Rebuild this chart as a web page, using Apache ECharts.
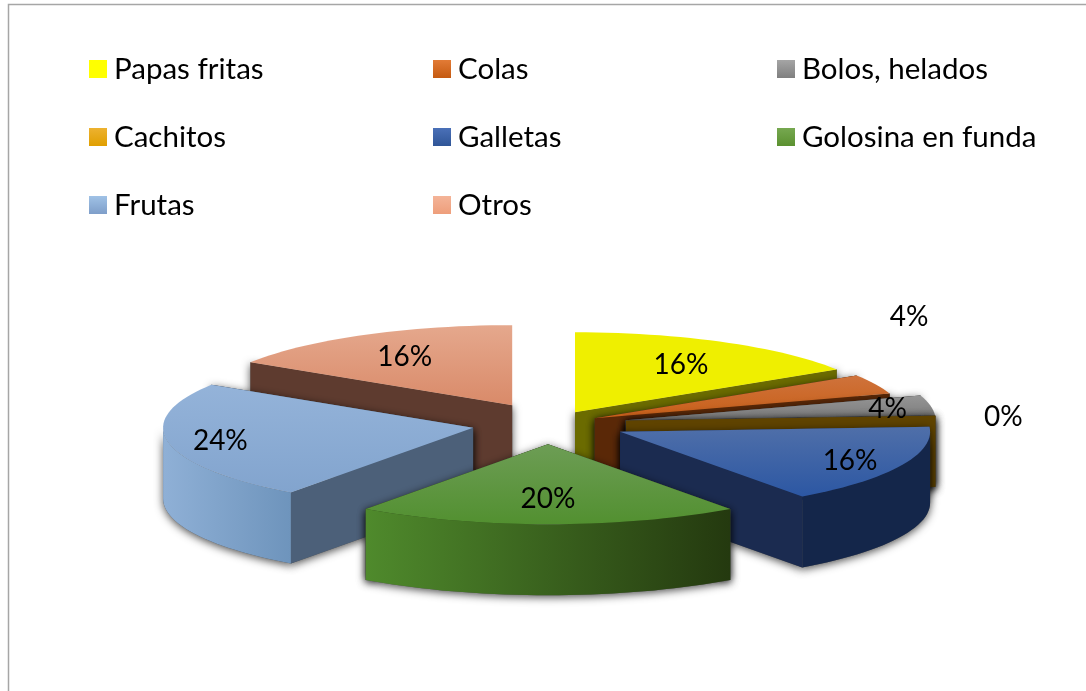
<!DOCTYPE html>
<html>
<head>
<meta charset="utf-8">
<title>Pastel 3D</title>
<style>html,body{margin:0;background:#fff}#main{width:1086px;height:691px}</style>
<script src="https://cdn.jsdelivr.net/npm/echarts@6/dist/echarts.min.js"></script>
</head>
<body>
<div id="main"></div>
<script>
// data
var categories = ['Papas fritas', 'Colas', 'Bolos, helados', 'Cachitos', 'Galletas', 'Golosina en funda', 'Frutas', 'Otros'];
var percents = [16, 4, 4, 0, 16, 20, 24, 16];

// look of the tilted pie
var FONT = 'Lato';
var cx = 548, cy = 425, rx = 310, ry = 80, depth = 71;
var explode = [0.181, 0.167, 0.255, 0.252, 0.257, 0.24, 0.246, 0.24];
var sliceLift = [0, -1, -1, -3, -2, 0, -1, -3];
var labelR = [0.71, 1.12, 0.86, 1.22, 0.82, 0.68, 0.83, 0.72];
var labelLift = [2, -63, 2, 2, 1, 0, 1, 2];
// back to front
var drawOrder = [7, 0, 1, 2, 3, 6, 4, 5];
var legendCols = [[0, 3, 6], [1, 4, 7], [2, 5]];
var legendX = [89, 433, 777];
var legendFill = [['#ffff00', '#ffff00'], ['#e27b36', '#c55a11'], ['#a5a5a5', '#7f7f7f'], ['#edb230', '#e09f00'],
  ['#4a70b8', '#2f5597'], ['#76a850', '#5b9130'], ['#a0c2e6', '#7e9ec9'], ['#f4b498', '#ee9e7b']];
var topFill = [['#efef00', '#efef00'], ['#cf733c', '#c85f18'], ['#959595', '#7a7a7a'], ['#e6a100', '#e6a100'],
  ['#4f6fa9', '#2c57a3'], ['#6d9d55', '#529030'], ['#94b3d9', '#82a4ce'], ['#e5a88d', '#d98a69']];
var cutFill = ['#6b6b00', '#5a2807', '#404040', '#5f4300', '#1b2b50', '#24390f', '#4c6079', '#5e3b2f'];
var wallFill = [null, null, null, null, ['#14264a', '#14264a'], ['#4f8a2c', '#24390f'], ['#8fb0d6', '#6e94bc'], null];
var SHADOW = { fill: '#555', shadowColor: 'rgba(0,0,0,0.7)', shadowBlur: 8, shadowOffsetY: 2 };

var total = percents.reduce(function (a, b) { return a + b; }, 0);
var angleOf = function (v) { return echarts.number.linearMap(v, [0, total], [0, 360]); };

function grad(pair, horizontal) {
  return new echarts.graphic.LinearGradient(0, 0, horizontal ? 1 : 0, horizontal ? 0 : 1, [
    { offset: 0, color: pair[0] }, { offset: 1, color: pair[1] }
  ]);
}
function sliceRange(i) {
  var before = percents.slice(0, i).reduce(function (a, b) { return a + b; }, 0);
  return [angleOf(before), angleOf(before + percents[i])];
}
function apex(i) {
  var r = sliceRange(i), mid = (r[0] + r[1]) / 2 * Math.PI / 180;
  return [cx + explode[i] * rx * Math.sin(mid), cy - explode[i] * ry * Math.cos(mid) + sliceLift[i]];
}
function rim(c, deg, drop) {
  var a = deg * Math.PI / 180;
  return [c[0] + rx * Math.sin(a), c[1] - ry * Math.cos(a) + (drop || 0)];
}
function arcPoints(c, from, to, drop) {
  var pts = [], n = Math.max(2, Math.ceil(Math.abs(to - from) / 2));
  for (var k = 0; k <= n; k++) pts.push(rim(c, from + (to - from) * k / n, drop));
  return pts;
}
function poly(points, style) {
  return { type: 'polygon', shape: { points: points }, style: style };
}
function cutPoints(c, deg) {
  var p = rim(c, deg);
  return [c, p, [p[0], p[1] + depth], [c[0], c[1] + depth]];
}
function renderSlice(i) {
  return function () {
    var r = sliceRange(i), c = apex(i), shadows = [], faces = [];
    // the start face looks at us on the left half, the end face on the right half
    var startFirst = Math.sin(r[1] * Math.PI / 180) > 0;
    [startFirst ? r[0] : r[1], startFirst ? r[1] : r[0]].forEach(function (deg) {
      shadows.push(poly(cutPoints(c, deg), SHADOW));
      faces.push(poly(cutPoints(c, deg), { fill: cutFill[i] }));
    });
    var from = Math.max(r[0], 90), to = Math.min(r[1], 270);
    if (wallFill[i] && to > from) {
      var wall = arcPoints(c, from, to, 0).concat(arcPoints(c, to, from, depth));
      shadows.push(poly(wall, SHADOW));
      faces.push(poly(wall, { fill: grad(wallFill[i], true) }));
    }
    if (r[1] > r[0]) {
      faces.push(poly([c].concat(arcPoints(c, r[0], r[1], 0)), { fill: grad(topFill[i], false) }));
    }
    return { type: 'group', children: shadows.concat(faces) };
  };
}
function renderLabel(params, api) {
  var i = params.dataIndex, r = sliceRange(i), c = apex(i), mid = (r[0] + r[1]) / 2 * Math.PI / 180;
  return {
    type: 'text',
    style: {
      text: api.value(0) + '%',
      x: c[0] + labelR[i] * rx * Math.sin(mid),
      y: c[1] - labelR[i] * ry * Math.cos(mid) + labelLift[i],
      textAlign: 'center',
      textVerticalAlign: 'middle',
      font: '28px ' + FONT,
      fill: '#000'
    }
  };
}

var series = drawOrder.map(function (i, order) {
  return {
    type: 'custom',
    name: categories[i],
    coordinateSystem: 'none',
    z: 2 + order,
    silent: true,
    itemStyle: { color: legendFill[i][1] },
    renderItem: renderSlice(i),
    data: [percents[i]]
  };
});
series.push({
  type: 'custom',
  name: 'etiquetas',
  coordinateSystem: 'none',
  z: 20,
  silent: true,
  renderItem: renderLabel,
  data: percents
});

var legends = legendCols.map(function (col, n) {
  return {
    orient: 'vertical',
    left: legendX[n],
    top: 54,
    padding: 0,
    itemWidth: 18,
    itemHeight: 18,
    itemGap: 38,
    selectedMode: false,
    icon: 'rect',
    textStyle: { fontFamily: FONT, fontSize: 29.5, color: '#000', padding: [0, 0, 0, 2] },
    data: col.map(function (i) {
      return { name: categories[i], itemStyle: { color: grad(legendFill[i], false) } };
    })
  };
});

var myChart = echarts.init(document.getElementById('main'));
myChart.setOption({
  animation: false,
  backgroundColor: '#fff',
  graphic: [{
    type: 'polyline',
    silent: true,
    shape: { points: [[8.5, 691], [8.5, 4.5], [1086, 4.5]] },
    style: { fill: null, stroke: '#a6a6a6', lineWidth: 1.5 }
  }],
  legend: legends,
  series: series
});
</script>
</body>
</html>
